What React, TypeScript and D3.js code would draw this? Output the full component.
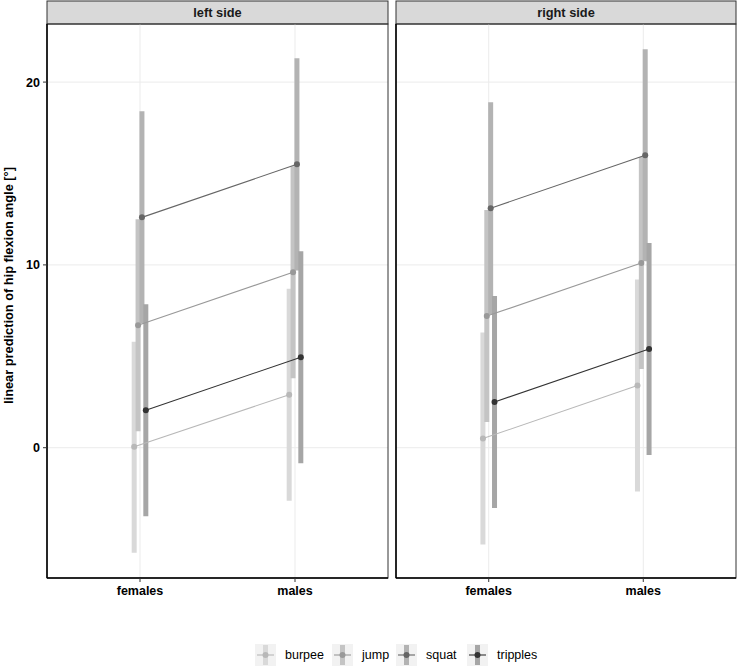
import React from 'react';
import * as d3 from 'd3';

const groups = ['burpee', 'jump', 'squat', 'tripples'];
const sexes = ['females', 'males'];
const sides = ['left side', 'right side'];

// estimates [females, males] per group
const leftEstimate = [[0.05, 2.9], [6.7, 9.6], [12.6, 15.5], [2.05, 4.95]];
const leftLower = [[-5.75, -2.9], [0.9, 3.8], [6.8, 9.7], [-3.75, -0.85]];
const leftUpper = [[5.8, 8.7], [12.5, 15.4], [18.4, 21.3], [7.85, 10.75]];

const rightEstimate = [[0.5, 3.4], [7.2, 10.1], [13.1, 16.0], [2.5, 5.4]];
const rightLower = [[-5.3, -2.4], [1.4, 4.3], [7.3, 10.2], [-3.3, -0.4]];
const rightUpper = [[6.3, 9.2], [13.0, 15.9], [18.9, 21.8], [8.3, 11.2]];

const yTicks = [0, 10, 20];

const pointColors = ['#b8b8b8', '#999999', '#666666', '#333333'];
const barColors = ['#d9d9d9', '#c4c4c4', '#b3b3b3', '#a6a6a6'];

const W = 738;
const H = 667;
const panels = [
  { x0: 47, x1: 388, est: leftEstimate, lo: leftLower, hi: leftUpper },
  { x0: 396, x1: 736, est: rightEstimate, lo: rightLower, hi: rightUpper },
];
const stripTop = 1;
const panelTop = 24;
const panelBottom = 578;

const allVals = [leftLower, leftUpper, rightLower, rightUpper].flat(2);
const [vmin, vmax] = d3.extent(allVals) as [number, number];
const pad = (vmax - vmin) * 0.05;

const y = d3.scaleLinear().domain([vmin - pad, vmax + pad]).range([panelBottom, panelTop]);
const dodge = d3.scaleBand().domain(groups).range([-0.05, 0.05]);

const font = 'Liberation Sans, Arial, sans-serif';

export default function App() {
  return (
    <svg width={W} height={H} style={{ position: 'absolute', left: 0, top: 0, background: '#fff' }} fontFamily={font}>
      {panels.map((p, pi) => {
        const x = d3.scaleLinear().domain([0.4, 2.6]).range([p.x0, p.x1]);
        const xc = (si: number, gi: number) => x(si + 1 + (dodge(groups[gi])! + dodge.bandwidth() / 2));
        return (
          <g key={pi}>
            {/* strip */}
            <rect x={p.x0} y={stripTop} width={p.x1 - p.x0} height={panelTop - stripTop} fill="#d9d9d9" stroke="#333" strokeWidth={1} />
            <text x={(p.x0 + p.x1) / 2} y={(stripTop + panelTop) / 2 + 4.5} textAnchor="middle" fontSize={12.8} fontWeight="bold" fill="#1a1a1a">{sides[pi]}</text>
            {/* grid */}
            {yTicks.map(t => (
              <line key={t} x1={p.x0} x2={p.x1} y1={y(t)} y2={y(t)} stroke="#ebebeb" strokeWidth={1} />
            ))}
            {sexes.map((s, si) => (
              <line key={s} x1={x(si + 1)} x2={x(si + 1)} y1={panelTop} y2={panelBottom} stroke="#ebebeb" strokeWidth={1} />
            ))}
            {/* ranges */}
            {groups.map((g, gi) => sexes.map((s, si) => (
              <line key={g + s} x1={xc(si, gi)} x2={xc(si, gi)} y1={y(p.lo[gi][si])} y2={y(p.hi[gi][si])} stroke={barColors[gi]} strokeWidth={5} />
            )))}
            {/* lines */}
            {groups.map((g, gi) => (
              <line key={g} x1={xc(0, gi)} x2={xc(1, gi)} y1={y(p.est[gi][0])} y2={y(p.est[gi][1])} stroke={pointColors[gi]} strokeWidth={1.1} />
            ))}
            {/* points */}
            {groups.map((g, gi) => sexes.map((s, si) => (
              <circle key={g + s} cx={xc(si, gi)} cy={y(p.est[gi][si])} r={3} fill={pointColors[gi]} />
            )))}
            {/* border */}
            <rect x={p.x0} y={panelTop} width={p.x1 - p.x0} height={panelBottom - panelTop} fill="none" stroke="#333" strokeWidth={1} />
            <line x1={p.x0} x2={p.x0} y1={panelTop} y2={panelBottom} stroke="#000" strokeWidth={1.5} />
            <line x1={p.x0} x2={p.x1} y1={panelBottom} y2={panelBottom} stroke="#000" strokeWidth={1.5} />
            {/* x ticks */}
            {sexes.map((s, si) => (
              <g key={s}>
                <line x1={x(si + 1)} x2={x(si + 1)} y1={panelBottom} y2={panelBottom + 4} stroke="#333" />
                <text x={x(si + 1)} y={panelBottom + 17} textAnchor="middle" fontSize={12.5} fontWeight="bold" fill="#000">{s}</text>
              </g>
            ))}
          </g>
        );
      })}
      {/* y axis */}
      {yTicks.map(t => (
        <g key={t}>
          <line x1={43} x2={47} y1={y(t)} y2={y(t)} stroke="#333" />
          <text x={40} y={y(t) + 4.5} textAnchor="end" fontSize={12.5} fontWeight="bold" fill="#000">{t}</text>
        </g>
      ))}
      <text transform={`translate(13,${(stripTop + panelBottom) / 2 - 4}) rotate(-90)`} textAnchor="middle" fontSize={12.8} fontWeight="bold" fill="#000">
        linear prediction of hip flexion angle [°]
      </text>
      {/* legend */}
      {groups.map((g, gi) => {
        const kx = [255, 332, 396, 467][gi];
        const ky = 644;
        return (
          <g key={g}>
            <rect x={kx} y={ky} width={21} height={22} fill="#f2f2f2" />
            <line x1={kx + 10.5} x2={kx + 10.5} y1={ky + 1} y2={ky + 21} stroke={barColors[gi]} strokeWidth={5} />
            <line x1={kx + 2} x2={kx + 19} y1={ky + 11} y2={ky + 11} stroke={pointColors[gi]} strokeWidth={1.1} />
            <circle cx={kx + 10.5} cy={ky + 11} r={3} fill={pointColors[gi]} />
            <text x={kx + 30} y={ky + 15} fontSize={12.5} fill="#000">{g}</text>
          </g>
        );
      })}
    </svg>
  );
}
